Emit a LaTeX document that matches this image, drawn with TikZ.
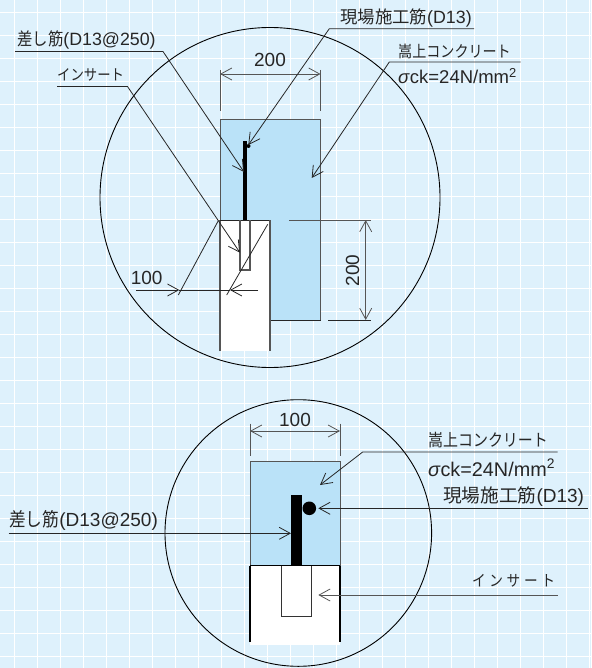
\documentclass[tikz,border=0pt]{standalone}
\usepackage{fontspec}
\setmainfont{Liberation Sans}
\newfontfamily\jpfont{Noto Sans CJK JP}
\newfontfamily\jpnarrow[FakeStretch=0.88]{Noto Sans CJK JP}
\usetikzlibrary{arrows.meta}
\definecolor{sheetblue}{HTML}{DEF1FC}
\definecolor{concblue}{HTML}{BAE2F8}
\definecolor{linegray}{HTML}{555555}
\newcommand{\jp}[2]{{\jpfont\fontsize{#1}{20}\selectfont #2}}
\newcommand{\jpn}[2]{{\jpnarrow\fontsize{#1}{20}\selectfont #2}}

\begin{document}
\begin{tikzpicture}[x=1pt,y=-1pt]
 \tikzset{
  dimline/.style={draw=linegray, line width=0.9pt},
  leader/.style={draw=black!85, line width=0.8pt},
  tip/.style={-{Straight Barb[length=11pt,width=12pt,line width=0.8pt]}},
  tips/.style={{Straight Barb[length=11pt,width=12pt,line width=0.8pt]}-{Straight Barb[length=11pt,width=12pt,line width=0.8pt]}},
  ring/.style={circle, draw=black, line width=0.9pt, inner sep=0pt},
  label/.style={inner sep=0pt, text=black!85, font=\fontsize{17.8}{20}\selectfont},
  dimlabel/.style={label, font=\fontsize{19}{20}\selectfont},
  biglabel/.style={label, font=\fontsize{19}{20}\selectfont}
 };
 \useasboundingbox (0,0) rectangle (591,668);
 \fill[sheetblue] (0,0) rectangle (591,668);
 % grid of the sheet
 \foreach \gx in {0,...,25} \draw[white, line width=1.1pt] ({14.7+23*\gx},0) -- ({14.7+23*\gx},668);
 \foreach \gy in {0,...,28} \draw[white, line width=1.1pt] (0,{12.7+23*\gy}) -- (591,{12.7+23*\gy});

 % upper detail
 \node[ring, minimum size=340pt] (ringA) at (270,197.5) {};
 \fill[concblue] (220,119.5) rectangle (320.5,320);
 \fill[white] (220,220) rectangle (270,351);
 \draw[dimline] (220,220) -- (220,119.5) -- (320.5,119.5) -- (320.5,320);
 \draw[leader, line width=1pt] (320.5,320) -- (270,320);
 \draw[dimline, line width=1.2pt] (220,351) -- (220,220);
 \draw[leader, line width=1pt] (220,220) -- (270,220);
 \draw[dimline, line width=1.2pt] (270,220) -- (270,351);
 \draw[dimline, line width=1.2pt] (240,220) -- (240,270) -- (250,270) -- (250,220);
 \fill[black] (243.3,141) rectangle (247,220);
 \fill[black] (248.5,146) circle (2pt);

 \coordinate (dimAl) at (220,74);
 \coordinate (dimAr) at (320.5,74);
 \draw[dimline] (220,70) -- (220,111);
 \draw[dimline] (320.5,70) -- (320.5,111);
 \draw[dimline, tips] (dimAl) -- (dimAr);
 \node[dimlabel] (widthA) at (270,60) {200};

 \coordinate (sashiBend) at (163,51.5);
 \coordinate (sashiEnd) at (244,172);
 \node[label, anchor=base west] (sashiA) at (17,45.7) {\jpn{17.5}{差し筋}(D13@250)};
 \draw[leader, tip] (15,51.5) -- (sashiBend) -- (sashiEnd);

 \coordinate (insBend) at (127.5,86.5);
 \coordinate (insEnd) at (240,252.7);
 \node[label, anchor=base west] (insA) at (57,81) {\jpn{15.2}{インサート}};
 \draw[leader, tip] (57,86.5) -- (insBend) -- (insEnd);

 \coordinate (genbaBend) at (329.3,28.7);
 \coordinate (genbaEnd) at (248.3,145);
 \node[label, anchor=base west] (genbaA) at (340,23.3) {\jp{17.4}{現場施工筋}(D13)};
 \draw[leader, tip] (474,28.7) -- (genbaBend) -- (genbaEnd);

 \coordinate (kasaBend) at (389.3,62);
 \coordinate (kasaEnd) at (311.7,178);
 \node[label] (kasaA) at (454.5,51) {\jpn{16}{嵩上コンクリート}};
 \node[label, font=\fontsize{18.5}{20}\selectfont] (sigmaA) at (457.5,76) {\textit{σ}ck=24N/mm\textsuperscript{2}};
 \draw[leader, tip] (520.7,62) -- (kasaBend) -- (kasaEnd);

 \coordinate (hundAl) at (136,290);
 \coordinate (hundAt) at (179.3,290);
 \coordinate (hundBr) at (258,290);
 \coordinate (hundBt) at (230,290);
 \draw[leader] (hundAt) -- (hundBt);
 \draw[leader, tip] (hundAl) -- (hundAt);
 \draw[leader, tip] (hundBr) -- (hundBt);
 \coordinate (hundLa) at (218.3,220.7);
 \coordinate (hundLb) at (178.3,295);
 \coordinate (hundLc) at (267.7,224.3);
 \coordinate (hundLd) at (226.7,295);
 \draw[leader] (hundLa) -- (hundLb);
 \draw[leader] (hundLc) -- (hundLd);
 \node[dimlabel] (depthA) at (146.7,278) {100};

 \coordinate (dimBt) at (365.7,220);
 \coordinate (dimBb) at (365.7,320);
 \draw[dimline] (289,220) -- (370.7,220);
 \draw[leader] (328,320) -- (370.7,320);
 \draw[dimline, tips] (dimBt) -- (dimBb);
 \node[dimlabel, rotate=90] (heightA) at (352.7,270.7) {200};

 % lower detail
 \node[ring, minimum size=266.6pt] (ringB) at (298.3,533) {};
 \fill[concblue] (250,461.7) rectangle (340,565.7);
 \fill[white] (250,565.7) rectangle (340,644.5);
 \draw[dimline] (250,565.7) -- (250,461.7) -- (340,461.7) -- (340,565.7);
 \draw[black, line width=1pt] (250,565.7) -- (340,565.7);
 \draw[black, line width=1.3pt] (250,642) -- (250,565.7);
 \draw[black, line width=1.3pt] (340,565.7) -- (340,642);
 \draw[black!80, line width=0.9pt] (281.3,565.7) -- (281.3,616) -- (311.7,616) -- (311.7,565.7);
 \fill[black] (291,495) rectangle (302,565.7);
 \fill[black] (309.3,508.3) circle (6.8pt);

 \coordinate (dimCl) at (250,431);
 \coordinate (dimCr) at (340,431);
 \draw[dimline] (250,423.5) -- (250,456);
 \draw[dimline] (340,423.5) -- (340,456);
 \draw[dimline, tips] (dimCl) -- (dimCr);
 \node[dimlabel] (widthB) at (295,420) {100};

 \coordinate (kasaBendB) at (362.7,452);
 \coordinate (kasaEndB) at (320,485);
 \node[biglabel] (kasaB) at (488,440) {\jpn{17}{嵩上コンクリート}};
 \node[biglabel, font=\fontsize{19.8}{20}\selectfont] (sigmaB) at (491.5,468) {\textit{σ}ck=24N/mm\textsuperscript{2}};
 \draw[leader, tip] (557.7,452) -- (kasaBendB) -- (kasaEndB);

 \coordinate (genbaFree) at (587.7,508.3);
 \coordinate (genbaEndB) at (318.3,508.3);
 \node[biglabel] (genbaB) at (513.5,497) {\jp{18.7}{現場施工筋}(D13)};
 \draw[leader, tip] (genbaFree) -- (genbaEndB);

 \coordinate (insFree) at (557.7,595);
 \coordinate (insEndB) at (318.3,595);
 \node[biglabel] (insB) at (513.5,581) {\jpn{15.5}{イ\hspace{3.7pt}ン\hspace{3.7pt}サ\hspace{3.7pt}ー\hspace{3.7pt}ト}};
 \draw[dimline, tip] (insFree) -- (insEndB);

 \coordinate (sashiFree) at (8.7,533.3);
 \coordinate (sashiEndB) at (291,533.3);
 \node[biglabel, anchor=base west] (sashiB) at (9,526.7) {\jpn{19}{差し筋}(D13@250)};
 \draw[leader, tip] (sashiFree) -- (sashiEndB);
\end{tikzpicture}
\end{document}
